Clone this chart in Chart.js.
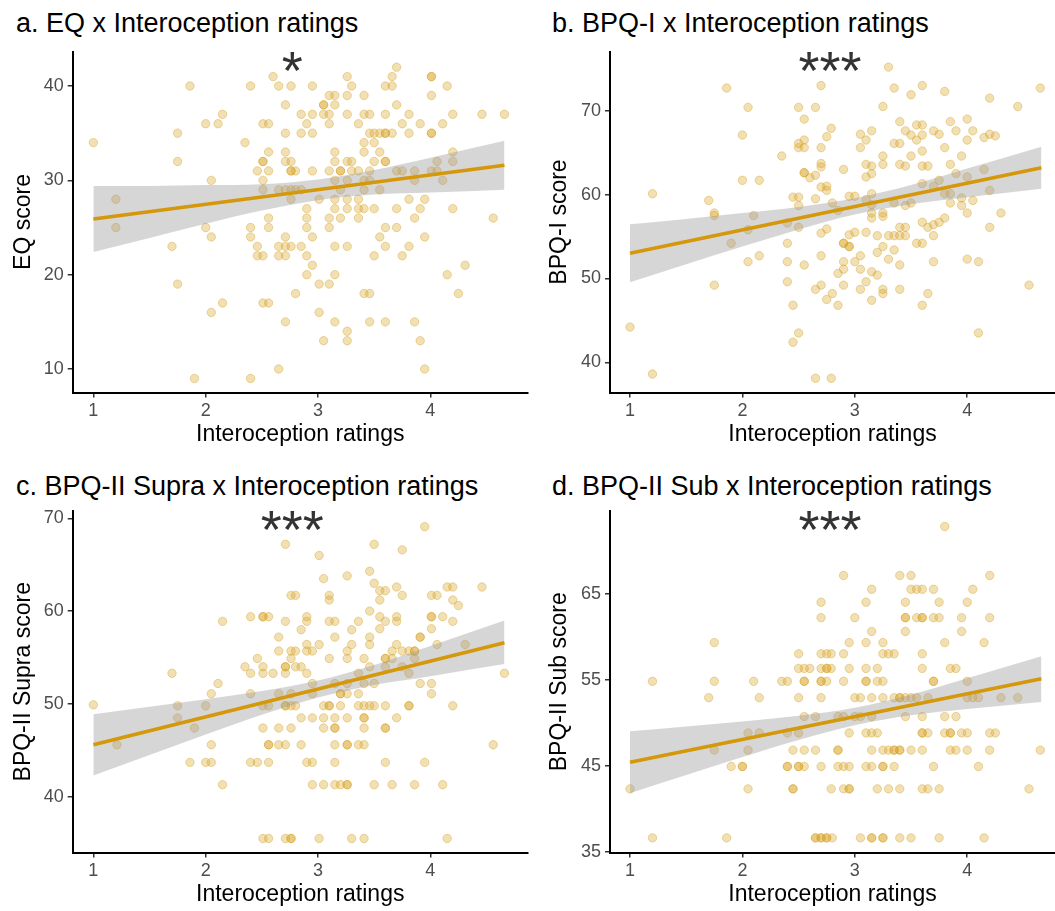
<!DOCTYPE html>
<html>
<head>
<meta charset="utf-8">
<script src="https://cdn.jsdelivr.net/npm/chart.js@4.4.1/dist/chart.umd.min.js"></script>
<style>
  body { margin: 0; background: #fff; width: 1055px; height: 911px; position: relative; overflow: hidden;
         font-family: "Liberation Sans", Arial, sans-serif; }
  canvas { position: absolute; }
  .title { position: absolute; font-size: 27px; line-height: 27px; color: #000; white-space: nowrap; }
</style>
</head>
<body>
<div class="title" style="left:16px;top:10px">a. EQ x Interoception ratings</div>
<div class="title" style="left:552px;top:10px">b. BPQ-I x Interoception ratings</div>
<div class="title" style="left:16px;top:473px">c. BPQ-II Supra x Interoception ratings</div>
<div class="title" style="left:552px;top:473px">d. BPQ-II Sub x Interoception ratings</div>

<canvas id="eqChart" width="530" height="455" style="left:0;top:0"></canvas>
<canvas id="bpqChart" width="515" height="455" style="left:540px;top:0"></canvas>
<canvas id="supraChart" width="530" height="451" style="left:0;top:460px"></canvas>
<canvas id="subChart" width="515" height="451" style="left:540px;top:460px"></canvas>

<script>
// Interoception rating (x) vs questionnaire score (y), one point per participant
const eqPoints = [
  [1.0,34],[1.2,28],[1.2,25],[1.86,40],[1.75,35],[1.75,32],[1.7,23],[1.75,19],[1.9,9],
  [2.0,36],[2.11,36],[2.15,37],[2.05,30],[2.0,25],[2.05,24],[2.15,17],[2.05,16],
  [2.35,34],[2.4,40],[2.4,25],[2.4,24],[2.4,9],[2.46,23],[2.46,22],[2.51,22],[2.51,17],[2.56,17],
  [2.51,32],[2.51,32],[2.46,31],[2.56,31],[2.51,30],[2.51,29],[2.56,33],[2.51,36],[2.56,36],
  [2.6,41],[2.65,40],[2.76,40],[2.71,38],[2.85,37],[2.71,35],[2.85,35],[2.71,33],[2.71,32],[2.76,32],
  [2.76,31],[2.76,31],[2.8,31],[2.65,29],[2.71,29],[2.76,29],[2.8,29],[2.85,29],[2.76,28],
  [2.56,26],[2.56,25],[2.71,24],[2.65,23],[2.71,23],[2.76,23],[2.85,23],[2.65,22],[2.71,22],
  [2.8,18],[2.71,15],[2.65,10],
  [3.7,42],[3.26,41],[3.66,41],[4.01,41],[4.01,41],[2.95,40],[3.3,40],[3.6,40],[3.66,40],[4.15,40],
  [3.1,39],[3.15,39],[3.26,39],[3.41,39],[4.01,39],
  [3.05,38],[3.05,38],[3.15,38],[3.7,38],
  [2.95,37],[3.05,37],[3.1,37],[3.26,37],[3.41,37],[3.46,37],[3.6,37],[3.81,37],[4.2,37],[4.46,37],[4.66,37],
  [2.9,36],[3.1,36],[3.36,36],[3.75,36],[3.91,36],[4.11,36],
  [2.95,35],[3.46,35],[3.5,35],[3.55,35],[3.6,35],[3.6,35],[3.66,35],[3.81,35],[4.01,35],[4.01,35],
  [3.41,34],[3.5,34],
  [3.15,33],[3.41,33],[3.55,33],[4.2,33],
  [3.15,32],[3.26,32],[3.3,32],[3.5,32],[3.6,32],[3.6,32],[4.06,32],[4.2,32],
  [2.95,31],[3.1,31],[3.2,31],[3.2,31],[3.3,31],[3.36,31],[3.46,31],[3.7,31],[3.75,31],[3.86,31],[4.01,31],[4.06,31],
  [3.15,30],[3.26,30],[3.41,30],[3.46,30],[3.86,30],[4.11,30],
  [3.2,29],[3.41,29],[3.55,29],
  [3.01,28],[3.15,28],[3.26,28],[3.36,28],[3.81,28],[3.95,28],
  [2.9,27],[3.15,27],[3.26,27],[3.36,27],[3.41,27],[3.5,27],[3.7,27],[3.91,27],[4.2,27],
  [2.9,26],[3.1,26],[3.2,26],[3.36,26],[3.86,26],[4.56,26],
  [2.9,25],[3.1,25],[3.6,25],[3.7,25],
  [2.95,24],[3.55,24],[3.95,24],
  [3.15,23],[3.26,23],[3.6,23],[3.81,23],
  [2.9,22],[3.5,22],[3.75,22],
  [2.95,21],[4.31,21],
  [2.9,20],[3.15,20],[4.15,20],
  [3.01,19],[3.1,19],
  [3.41,18],[3.46,18],[4.25,18],
  [3.01,16],
  [3.15,15],[3.46,15],[3.6,15],[3.86,15],
  [3.26,14],
  [3.05,13],[3.26,13],[3.91,13],
  [3.95,10]
];

const bpqPoints = [
  [1.0,44.2],[1.2,60.1],[1.2,38.6],[1.7,59.3],[1.75,57.8],[1.75,57.5],[1.75,49.2],[1.86,72.7],[1.9,54.2],
  [2.0,67.1],[2.0,61.7],[2.05,70.4],[2.05,55.8],[2.05,52.0],[2.1,57.5],[2.15,61.7],[2.15,52.7],
  [2.35,64.6],[2.4,56.6],[2.4,54.2],[2.4,52.0],[2.4,49.6],[2.45,59.7],[2.45,46.8],[2.45,42.4],
  [2.5,70.4],[2.5,66.1],[2.5,65.6],[2.5,59.7],[2.5,58.7],[2.5,56.1],[2.5,43.5],
  [2.55,69.0],[2.55,66.5],[2.55,65.6],[2.55,62.6],[2.55,62.6],[2.55,51.6],[2.6,62.0],
  [2.65,70.4],[2.65,62.3],[2.65,59.5],[2.65,48.7],[2.65,38.1],
  [2.7,73.0],[2.7,65.6],[2.7,63.7],[2.7,63.3],[2.7,60.9],[2.7,55.4],[2.7,52.7],[2.7,49.2],
  [2.75,66.9],[2.75,61.0],[2.75,55.9],[2.75,47.5],[2.79,67.9],[2.79,38.1],
  [3.3,75.2],[3.35,72.7],[3.5,71.9],[3.6,73.0],[3.8,72.3],[4.2,71.5],[4.45,70.5],[4.65,72.7],[3.25,70.5],
  [3.4,68.7],[3.15,67.6],[3.05,67.2],[3.1,66.5],[3.05,65.6],[3.45,67.6],[3.5,67.1],[3.55,68.3],[3.6,68.3],
  [3.55,66.5],[3.6,67.1],[3.7,67.6],[3.75,67.2],[3.85,68.7],[3.9,67.6],[4.0,69.0],[4.05,67.6],[4.0,66.5],
  [4.15,66.8],[4.2,67.2],[4.25,67.0],
  [3.35,66.1],[3.4,66.1],[3.8,65.6],[3.25,64.6],[3.5,64.6],[3.6,65.2],[3.95,64.6],
  [3.25,63.6],[3.1,63.6],[3.15,63.4],[3.15,62.5],[3.1,62.1],[3.4,63.6],[3.45,63.4],[3.6,63.4],[3.65,63.4],
  [3.85,63.6],[2.9,63.0],[3.9,62.5],[4.0,62.1],[4.15,63.0],
  [3.75,61.7],[3.6,61.3],[3.7,61.0],[2.75,60.5],[2.95,59.8],[3.0,59.8],[3.15,60.1],[3.1,59.4],[3.8,60.1],
  [3.85,60.1],[3.95,59.6],[4.2,60.5],
  [2.8,59.0],[2.85,58.1],[3.15,58.8],[3.15,57.8],[3.35,59.0],[3.45,58.7],[3.5,59.0],[3.85,59.0],[3.95,58.7],
  [4.05,59.3],[4.0,57.8],[4.3,57.8],
  [3.15,57.2],[3.25,57.8],[3.25,57.4],[3.4,56.1],[3.45,56.1],[3.6,56.7],[3.65,56.1],[3.7,56.4],[3.75,56.7],
  [3.8,57.2],[4.2,56.1],
  [2.95,55.2],[3.0,55.5],[3.1,55.5],[3.2,55.1],[3.3,55.1],[3.35,55.1],[3.4,55.1],[3.45,55.1],[3.7,55.1],
  [2.9,54.2],[2.9,54.2],[2.95,53.8],[2.95,53.8],[3.25,53.8],[3.55,54.2],[3.6,54.2],[3.35,53.4],[3.05,52.7],
  [3.2,53.1],[3.3,52.3],[2.9,52.0],[3.0,52.0],[3.7,52.0],[4.0,52.3],[4.1,52.0],
  [2.85,50.6],[2.9,51.1],[3.05,51.1],[3.15,50.8],[3.2,50.4],[3.4,51.6],[3.1,49.6],[2.9,49.2],[3.05,48.7],
  [3.25,48.7],[3.25,48.2],[3.4,48.7],[2.8,48.2],[2.85,46.8],[3.15,47.4],[3.6,46.8],[3.65,48.2],[4.55,49.2],
  [4.1,43.5]
];

const supraPoints = [
  [1.0,49.9],[1.21,45.6],[1.7,53.3],[1.75,49.8],[1.75,48.5],[1.9,47.4],[1.86,43.7],[2.0,49.8],[2.0,43.7],
  [2.05,43.7],[2.05,45.6],[2.05,51.1],[2.11,52.2],[2.15,58.9],[2.15,41.3],
  [2.35,54.0],[2.4,59.4],[2.4,53.3],[2.4,51.1],[2.4,43.7],[2.46,54.9],[2.46,43.7],[2.51,59.4],[2.51,59.4],
  [2.56,59.4],[2.51,54.0],[2.51,53.3],[2.51,49.8],[2.56,49.8],[2.51,47.4],[2.56,45.6],[2.56,45.6],[2.56,43.7],
  [2.51,35.5],[2.56,35.5],
  [2.6,53.3],[2.65,57.2],[2.65,55.7],[2.65,51.1],[2.65,47.4],[2.65,45.6],[2.71,67.2],[2.71,58.9],[2.71,54.0],
  [2.71,54.0],[2.71,53.3],[2.71,49.8],[2.71,49.8],[2.71,45.6],[2.71,35.5],[2.76,35.5],[2.76,35.5],
  [2.76,61.7],[2.8,61.7],[2.76,55.7],[2.8,55.7],[2.76,54.9],[2.8,54.0],[2.85,54.0],[2.76,51.1],[2.76,49.8],
  [2.8,49.8],[2.76,47.4],[2.85,48.5],[2.85,45.6],[2.85,58.0],[2.9,59.4],[2.9,58.9],
  [3.95,69.1],[3.5,67.2],[3.75,66.6],[3.01,66.0],[3.05,63.5],[3.26,63.8],[3.46,64.3],[3.5,63.0],[3.55,62.2],
  [3.6,62.2],[3.7,62.6],[3.55,61.2],[3.75,61.7],[3.1,61.7],[3.1,61.2],[4.01,61.7],[4.06,61.7],[4.15,62.6],
  [4.2,62.6],[4.2,61.2],[4.25,60.6],[4.46,62.6],[3.46,60.0],
  [3.1,58.9],[3.15,58.9],[3.36,58.9],[3.55,59.4],[3.6,58.9],[3.7,59.4],[3.7,58.9],[4.01,59.4],[4.01,59.4],
  [4.11,59.4],[4.2,58.9],
  [3.3,58.0],[3.55,58.1],[4.01,58.1],[3.15,57.2],[3.46,57.2],[3.46,56.4],[3.91,57.2],[3.91,57.2],
  [2.9,56.4],[3.01,56.4],[3.3,56.4],[3.7,56.4],[4.06,56.4],[4.31,56.4],
  [2.9,55.7],[2.95,55.7],[3.26,55.7],[3.66,55.7],[3.75,55.7],[3.81,55.7],[3.86,55.7],[3.86,55.7],
  [3.1,54.9],[3.26,54.9],[3.41,54.9],[3.6,54.9],[3.6,54.9],[3.66,54.9],[3.86,54.9],
  [3.46,54.0],[3.6,54.0],[3.75,54.0],
  [2.9,53.3],[3.36,53.3],[3.81,53.3],[4.66,53.3],
  [2.95,52.2],[3.15,52.2],[3.26,52.2],[3.41,52.2],[3.5,52.2],[3.91,52.2],[4.01,52.2],
  [2.95,51.1],[3.2,51.1],[3.2,51.1],[3.26,51.1],[3.36,51.1],[4.01,51.1],
  [3.05,49.8],[3.1,49.8],[3.1,49.8],[3.2,49.8],[3.36,49.8],[3.41,49.8],[3.46,49.8],[3.5,49.8],[3.6,49.8],
  [3.81,49.8],[3.81,49.8],[4.2,49.8],
  [2.95,48.5],[3.05,48.5],[3.15,48.5],[3.26,48.5],[3.41,48.5],[3.41,48.5],[3.7,48.5],
  [3.05,47.4],[3.15,47.4],[3.15,47.4],[3.41,47.4],[3.6,47.4],[3.6,47.4],
  [3.15,45.6],[3.26,45.6],[3.26,45.6],[3.36,45.6],[3.41,45.6],[4.56,45.6],
  [2.9,43.7],[2.95,43.7],[3.15,43.7],[3.6,43.7],[3.95,43.7],
  [2.95,41.3],[3.05,41.3],[3.15,41.3],[3.2,41.3],[3.26,41.3],[3.26,41.3],[3.5,41.3],[3.66,41.3],[3.86,41.3],
  [4.11,41.3],
  [3.01,35.5],[3.3,35.5],[3.41,35.5],[4.15,35.5]
];

const subPoints = [
  [1.0,42.3],[1.2,54.8],[1.2,36.6],[1.7,52.9],[1.75,59.3],[1.75,54.8],[1.75,46.8],[1.86,36.6],[1.9,44.9],
  [2.0,44.9],[2.0,44.9],[2.05,48.8],[2.05,46.8],[2.05,42.3],[2.1,54.8],[2.15,52.9],[2.15,48.8],
  [2.35,54.8],[2.4,54.8],[2.4,48.8],[2.4,44.9],[2.4,44.9],[2.45,46.8],[2.45,42.3],[2.45,42.3],
  [2.5,58.0],[2.5,56.3],[2.5,52.9],[2.5,48.8],[2.5,44.9],[2.5,44.9],[2.55,56.3],[2.55,54.8],[2.55,54.8],
  [2.55,50.7],[2.55,46.8],[2.55,44.9],[2.6,56.3],
  [2.65,50.7],[2.65,46.8],[2.65,36.6],[2.65,36.6],[2.7,36.6],[2.7,36.6],[2.75,36.6],[2.75,36.6],
  [2.7,64.0],[2.7,62.2],[2.7,58.0],[2.75,58.0],[2.7,56.3],[2.75,56.3],[2.75,56.3],[2.7,54.8],[2.7,54.8],
  [2.75,54.8],[2.7,52.9],[2.7,44.9],[2.79,58.0],[2.79,56.3],[2.79,42.3],[2.8,36.6],
  [3.8,72.8],[2.9,67.1],[3.4,67.1],[3.5,67.1],[4.2,67.1],
  [3.15,65.5],[3.5,65.5],[3.55,65.5],[3.6,65.5],[3.7,65.5],[4.05,65.5],
  [3.1,64.0],[3.45,64.0],[3.75,64.0],[4.0,64.0],
  [3.0,62.2],[3.45,62.2],[3.45,62.2],[3.55,62.2],[3.6,62.2],[3.6,62.2],[3.7,62.2],[3.75,62.2],[3.95,62.2],[4.2,62.2],
  [3.15,60.6],[3.45,60.6],[3.95,60.6],
  [2.95,59.3],[3.1,59.3],[3.25,59.3],[3.8,59.3],[4.15,59.3],
  [2.9,58.0],[3.25,58.0],[3.3,58.0],[3.35,58.0],[3.6,58.0],
  [2.95,56.3],[3.1,56.3],[3.2,56.3],[3.6,56.3],[3.85,56.3],[3.9,56.3],
  [2.9,54.8],[3.1,54.8],[3.1,54.8],[3.2,54.8],[3.25,54.8],[3.7,54.8],[3.7,54.8],[4.0,54.8],
  [3.0,52.9],[3.05,52.9],[3.15,52.9],[3.25,52.9],[3.35,52.9],[3.4,52.9],[3.4,52.9],[3.45,52.9],[3.5,52.9],
  [3.55,52.9],[3.65,52.9],[4.0,52.9],[4.05,52.9],[4.1,52.9],[4.3,52.9],[4.45,52.9],
  [2.85,50.7],[2.9,50.7],[3.0,50.7],[3.05,50.7],[3.15,50.7],[3.45,50.7],[3.6,50.7],[3.8,50.7],[3.9,50.7],
  [2.95,48.8],[3.1,48.8],[3.15,48.8],[3.2,48.8],[3.6,48.8],[3.6,48.8],[3.65,48.8],[3.8,48.8],[3.85,48.8],
  [3.85,48.8],[3.95,48.8],[4.0,48.8],[4.2,48.8],[4.25,48.8],
  [2.85,46.8],[2.85,46.8],[3.15,46.8],[3.25,46.8],[3.3,46.8],[3.35,46.8],[3.35,46.8],[3.4,46.8],[3.4,46.8],
  [3.5,46.8],[3.6,46.8],[3.85,46.8],[3.9,46.8],[4.0,46.8],[4.2,46.8],[4.65,46.8],
  [2.85,44.9],[2.9,44.9],[2.95,44.9],[3.1,44.9],[3.15,44.9],[3.25,44.9],[3.25,44.9],[3.35,44.9],[3.7,44.9],[4.1,44.9],
  [2.9,42.3],[2.95,42.3],[2.95,42.3],[3.2,42.3],[3.3,42.3],[3.4,42.3],[3.6,42.3],[3.65,42.3],[3.75,42.3],[4.55,42.3],
  [3.05,36.6],[3.15,36.6],[3.15,36.6],[3.25,36.6],[3.25,36.6],[3.4,36.6],[3.5,36.6],[3.75,36.6],[4.15,36.6]
];

// linear fit (line ends) and 95% band
const fitX = [1, 4.66];
const eqFit = [25.9, 31.6];
const bpqFit = [53.0, 63.2];
const supraFit = [45.6, 56.6];
const subFit = [45.4, 55.1];

const bandX = [1, 1.5, 2, 2.5, 3, 3.5, 4, 4.66];
const eqLo = [22.4, 23.9, 25.4, 26.8, 27.9, 28.5, 28.7, 29.0];
const eqHi = [29.4, 29.4, 29.5, 29.6, 30.1, 31.1, 32.4, 34.2];
const bpqLo = [49.55, 51.7, 53.8, 55.85, 57.63, 58.85, 59.68, 60.7];
const bpqHi = [56.45, 57.1, 57.8, 58.53, 59.55, 61.13, 63.1, 65.7];
const supraLo = [42.3, 44.5, 46.7, 48.83, 50.7, 52.04, 52.99, 54.3];
const supraHi = [48.9, 49.7, 50.5, 51.39, 52.52, 54.2, 56.25, 59.0];
const subLo = [41.8, 43.91, 45.99, 47.98, 49.7, 50.85, 51.58, 52.4];
const subHi = [49.0, 49.55, 50.13, 50.8, 51.73, 53.25, 55.16, 57.7];

const xTicks = [1, 2, 3, 4];
const eqTicks = [10, 20, 30, 40];
const bpqTicks = [40, 50, 60, 70];
const supraTicks = [40, 50, 60, 70];
const subTicks = [35, 45, 55, 65];

const FONT = '"Liberation Sans", Arial, sans-serif';
const gold = 'rgb(212,152,10)';

// significance stars drawn above the cloud
const starsPlugin = {
  id: 'stars',
  afterDatasetsDraw(chart, args, opts) {
    const ctx = chart.ctx;
    const x = chart.scales.x.getPixelForValue(opts.at);
    ctx.save();
    ctx.font = '54px ' + FONT;
    ctx.fillStyle = '#333';
    ctx.textAlign = 'center';
    ctx.textBaseline = 'alphabetic';
    ctx.fillText(opts.text, x, chart.chartArea.top + 37);
    ctx.restore();
  }
};

const xy = (xs, ys) => xs.map((x, i) => ({ x: x, y: ys[i] }));

function drawPanel(id, points, fit, lo, hi, yTitle, yMin, yMax, yTicks, xMin, xMax, stars, g) {
  new Chart(document.getElementById(id), {
    type: 'scatter',
    data: {
      datasets: [
        { type: 'line', data: xy(fitX, fit), borderColor: gold, borderWidth: 3.5,
          pointRadius: 0, fill: false, order: 0 },
        { type: 'line', data: xy(bandX, hi), borderColor: 'rgba(0,0,0,0)', borderWidth: 0,
          backgroundColor: 'rgba(153,153,153,0.4)', pointRadius: 0, fill: '+1',
          cubicInterpolationMode: 'monotone', order: 1 },
        { type: 'line', data: xy(bandX, lo), borderColor: 'rgba(0,0,0,0)', borderWidth: 0,
          pointRadius: 0, fill: false, cubicInterpolationMode: 'monotone', order: 1 },
        { data: points.map(p => ({ x: p[0], y: p[1] })), backgroundColor: 'rgba(215,160,30,0.33)',
          borderColor: 'rgba(210,155,20,0.38)', borderWidth: 1, pointRadius: 4.2, order: 2 }
      ]
    },
    options: {
      responsive: false,
      animation: false,
      events: [],
      devicePixelRatio: 1,
      layout: { autoPadding: false, padding: { top: g.top, right: g.right, left: 0, bottom: 0 } },
      plugins: { legend: { display: false }, tooltip: { enabled: false }, stars: stars },
      scales: {
        x: {
          type: 'linear', min: xMin, max: xMax,
          afterBuildTicks: s => { s.ticks = xTicks.map(v => ({ value: v })); },
          afterFit: s => { s.height = g.xh; },
          ticks: { font: { family: FONT, size: 18 }, color: '#4d4d4d', padding: 3 },
          grid: { drawOnChartArea: false, drawTicks: true, tickLength: 5, color: '#333', lineWidth: 1.5 },
          border: { display: true, color: '#000', width: 2 },
          title: { display: true, text: 'Interoception ratings', color: '#000',
                   font: { family: FONT, size: 23 }, padding: { top: 0, bottom: g.xt } }
        },
        y: {
          type: 'linear', min: yMin, max: yMax,
          afterBuildTicks: s => { s.ticks = yTicks.map(v => ({ value: v })); },
          afterFit: s => { s.width = g.yw; },
          ticks: { font: { family: FONT, size: 18 }, color: '#4d4d4d', padding: 4 },
          grid: { drawOnChartArea: false, drawTicks: true, tickLength: 5, color: '#333', lineWidth: 1.5 },
          border: { display: true, color: '#000', width: 2 },
          title: { display: true, text: yTitle, color: '#000',
                   font: { family: FONT, size: 23 }, padding: { top: g.yt, bottom: 0 } }
        }
      }
    },
    plugins: [starsPlugin]
  });
}

drawPanel('eqChart', eqPoints, eqFit, eqLo, eqHi, 'EQ score', 7.51, 43.66, eqTicks, 0.816, 4.868,
  { text: '*', at: 2.77 }, { top: 51.5, right: 2.2, xh: 62.5, xt: 7, yw: 72.7, yt: 10 });
drawPanel('bpqChart', bpqPoints, bpqFit, bpqLo, bpqHi, 'BPQ-I score', 36.4, 77.06, bpqTicks, 0.822, 4.781,
  { text: '***', at: 2.78 }, { top: 51.5, right: 0, xh: 62.5, xt: 7, yw: 70, yt: 6 });
drawPanel('supraChart', supraPoints, supraFit, supraLo, supraHi, 'BPQ-II Supra score', 33.99, 70.79, supraTicks, 0.816, 4.868,
  { text: '***', at: 2.77 }, { top: 51, right: 2.2, xh: 58.5, xt: 2.3, yw: 72.7, yt: 10 });
drawPanel('subChart', subPoints, subFit, subLo, subHi, 'BPQ-II Sub score', 34.9, 74.6, subTicks, 0.822, 4.781,
  { text: '***', at: 2.78 }, { top: 51, right: 0, xh: 58.5, xt: 2.3, yw: 70, yt: 6 });
</script>
</body>
</html>
